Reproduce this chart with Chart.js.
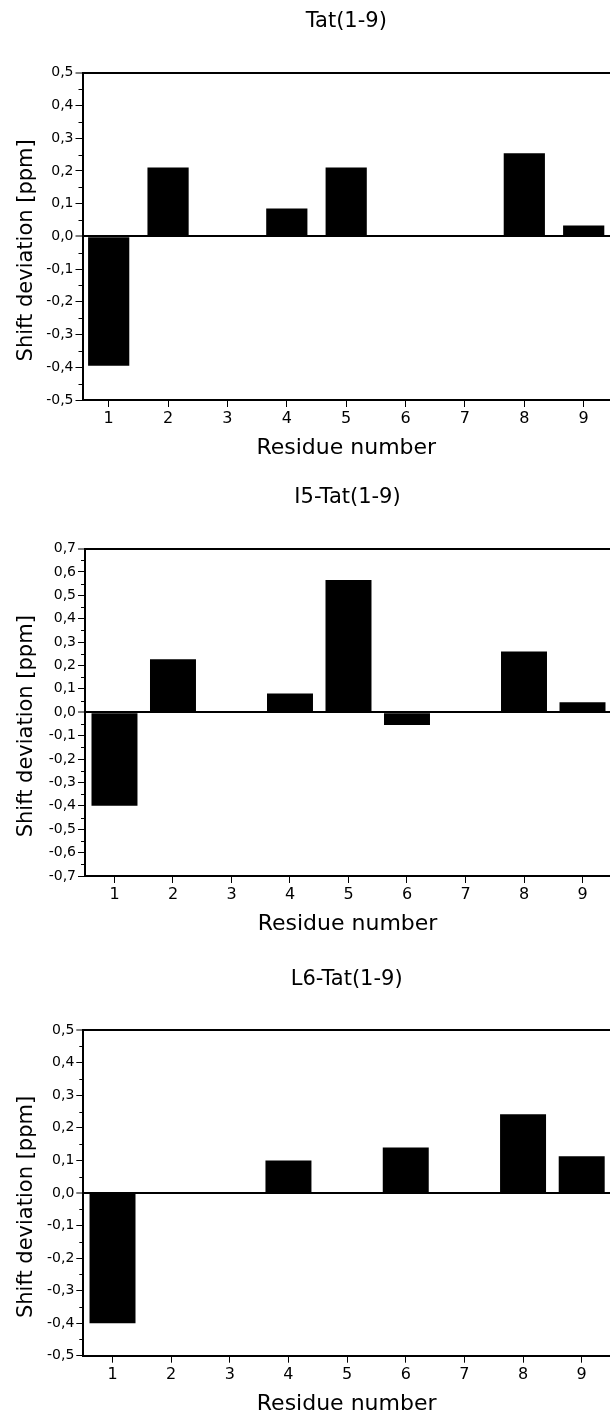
<!DOCTYPE html>
<html>
<head>
<meta charset="utf-8">
<script src="https://cdn.jsdelivr.net/npm/chart.js@4/dist/chart.umd.min.js"></script>
<style>
html,body{margin:0;padding:0;background:#fff;overflow:hidden;width:610px;height:1414px}
#wrap{position:relative;width:610px;height:1414px;background:#fff}
canvas{position:absolute;left:0}
</style>
</head>
<body>
<div id="wrap">
<canvas id="c1" width="610" height="470" style="top:0px"></canvas>
<canvas id="c2" width="610" height="480" style="top:470px"></canvas>
<canvas id="c3" width="610" height="470" style="top:950px"></canvas>
</div>
<script>
// ---- data ----
const residues = [1, 2, 3, 4, 5, 6, 7, 8, 9];
const xTickValues = [1, 2, 3, 4, 5, 6, 7, 8, 9];
const tatShift   = [-0.395, 0.21, 0, 0.085, 0.21, 0, 0, 0.254, 0.033];
const i5TatShift = [-0.40, 0.227, 0, 0.08, 0.565, -0.055, 0, 0.26, 0.043];
const l6TatShift = [-0.40, 0, 0, 0.10, 0, 0.14, 0, 0.242, 0.113];
const yTicksHalf  = [-0.5, -0.4, -0.3, -0.2, -0.1, 0, 0.1, 0.2, 0.3, 0.4, 0.5];
const yTicksSeven = [-0.7, -0.6, -0.5, -0.4, -0.3, -0.2, -0.1, 0, 0.1, 0.2, 0.3, 0.4, 0.5, 0.6, 0.7];
const panelTitles = ['Tat(1-9)', 'I5-Tat(1-9)', 'L6-Tat(1-9)'];
const xAxisTitle = 'Residue number';
const yAxisTitle = 'Shift deviation [ppm]';

Chart.defaults.font.family = "'DejaVu Sans', sans-serif";
Chart.defaults.color = '#000';

const fmt = v => (Math.abs(v) < 1e-9 ? 0 : v).toFixed(1).replace('.', ',');

const minorTickPlugin = {
  id: 'minorTicks',
  afterDraw(chart, args, opts) {
    const s = chart.scales.y, ctx = chart.ctx;
    ctx.save();
    ctx.strokeStyle = '#000';
    ctx.lineWidth = 1;
    ctx.beginPath();
    for (const v of opts.values) {
      const y = Math.round(s.getPixelForValue(v)) + 0.5;
      ctx.moveTo(s.right - 4, y);
      ctx.lineTo(s.right, y);
    }
    ctx.stroke();
    ctx.restore();
  }
};

const yTitleShiftPlugin = {
  id: 'yTitleShift',
  beforeDraw(chart, args, opts) {
    const s = chart.scales.y;
    if (!s._shiftPatched) {
      const orig = s.drawTitle;
      s.drawTitle = function () {
        this.top += opts.dy; this.bottom += opts.dy;
        orig.call(this);
        this.top -= opts.dy; this.bottom -= opts.dy;
      };
      s._shiftPatched = true;
    }
  }
};

function makeChart(id, title, values, yTicks, L) {
  const yMin = yTicks[0], yMax = yTicks[yTicks.length - 1];
  const minor = [];
  for (let i = 0; i < yTicks.length - 1; i++) minor.push((yTicks[i] + yTicks[i + 1]) / 2);
  const strong = v => Math.abs(v) < 1e-9 || Math.abs(v - yMax) < 1e-9;
  return new Chart(document.getElementById(id), {
    type: 'bar',
    data: {
      datasets: [{
        data: residues.map((r, i) => ({ x: r, y: values[i] })),
        backgroundColor: '#000',
        borderWidth: 0,
        barPercentage: L.barPct,
        categoryPercentage: 1
      }]
    },
    options: {
      responsive: false,
      animation: false,
      devicePixelRatio: 1,
      layout: { padding: 0 },
      plugins: {
        legend: { display: false },
        tooltip: { enabled: false },
        title: {
          display: true, text: title, fullSize: false, color: '#000',
          font: { size: 21, weight: 'normal' },
          padding: { top: L.titleTop, bottom: L.titleBottom }
        },
        minorTicks: { values: minor },
        yTitleShift: { dy: 14 }
      },
      scales: {
        x: {
          type: 'linear', offset: false,
          min: L.xMin, max: L.xMax,
          afterBuildTicks: s => { s.ticks = xTickValues.map(v => ({ value: v })); },
          afterFit: s => { s.height = L.xHeight; },
          ticks: { color: '#000', font: { size: 16 }, padding: 2.5, maxRotation: 0, autoSkip: false, callback: v => String(v) },
          grid: { offset: false, drawOnChartArea: false, drawTicks: true, tickLength: 7, color: '#000', tickColor: '#000', tickWidth: 1 },
          border: { display: true, color: '#000', width: 2 },
          title: { display: true, text: xAxisTitle, color: '#000', font: { size: 22 }, padding: { top: 0, bottom: L.xTitleBottom } }
        },
        y: {
          min: yMin, max: yMax,
          afterBuildTicks: s => { s.ticks = yTicks.map(v => ({ value: v })); },
          afterFit: s => { s.width = L.yWidth; },
          ticks: { color: '#000', font: { size: 14 }, padding: 2, autoSkip: false, callback: v => fmt(v) },
          grid: {
            drawOnChartArea: true, drawTicks: true, tickLength: 7,
            color: c => (c.tick && strong(c.tick.value)) ? '#000' : 'rgba(0,0,0,0)',
            lineWidth: c => (c.tick && strong(c.tick.value)) ? 2 : 1,
            tickColor: '#000', tickWidth: 1
          },
          border: { display: true, color: '#000', width: 2 },
          title: { display: true, text: yAxisTitle, color: '#000', font: { size: 21 }, padding: { top: 14, bottom: 0 } }
        }
      }
    },
    plugins: [minorTickPlugin, yTitleShiftPlugin]
  });
}

makeChart('c1', panelTitles[0], tatShift, yTicksHalf,
  { yWidth: 82.5, xHeight: 70, xMin: 0.559, xMax: 9.443, barPct: 0.694, titleTop: 9, titleBottom: 38.5, xTitleBottom: 8.8 });
makeChart('c2', panelTitles[1], i5TatShift, yTicksSeven,
  { yWidth: 85, xHeight: 74, xMin: 0.496, xMax: 9.470, barPct: 0.786, titleTop: 15, titleBottom: 38.3, xTitleBottom: 12.8 });
makeChart('c3', panelTitles[2], l6TatShift, yTicksHalf,
  { yWidth: 83.3, xHeight: 64.3, xMin: 0.502, xMax: 9.4825, barPct: 0.784, titleTop: 17, titleBottom: 38, xTitleBottom: 2.8 });
</script>
</body>
</html>
